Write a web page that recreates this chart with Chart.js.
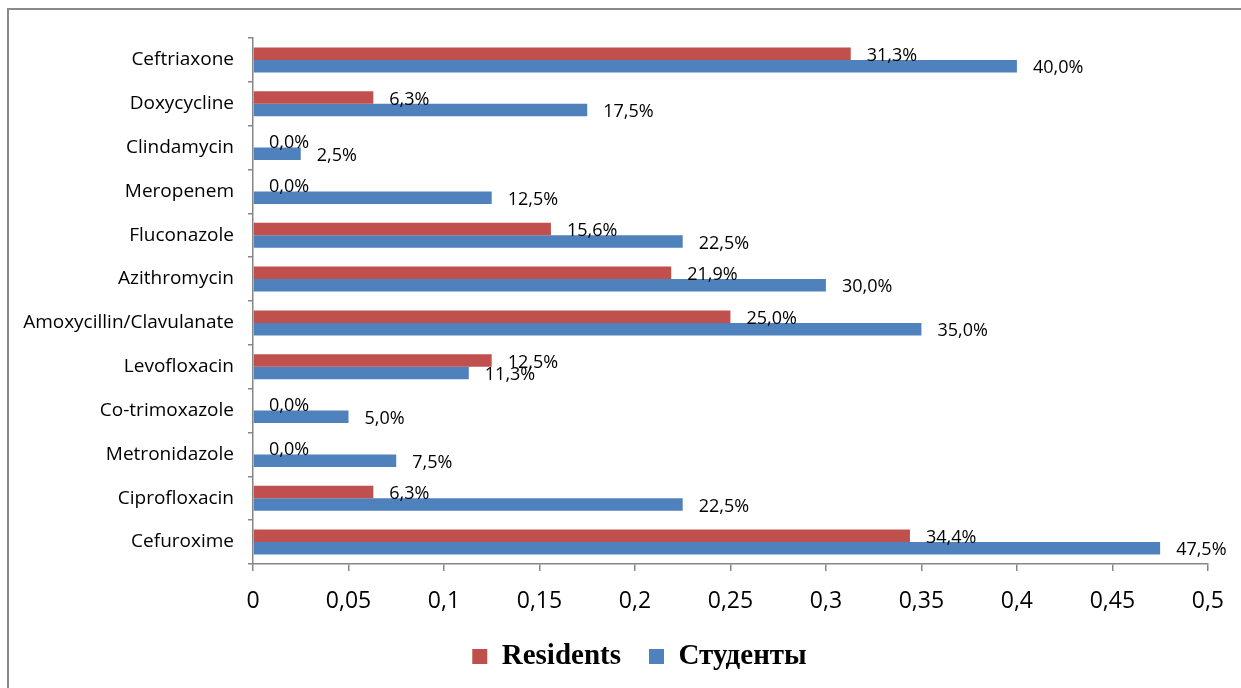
<!DOCTYPE html>
<html>
<head>
<meta charset="utf-8">
<script src="https://cdn.jsdelivr.net/npm/chart.js@4/dist/chart.umd.min.js"></script>
<style>
  html, body { margin: 0; padding: 0; background: #fff; }
  #frame {
    position: absolute; left: 7px; top: 8px; width: 1234px; height: 680px;
    border-top: 2px solid #8a8a8a; border-left: 2px solid #8a8a8a;
    box-sizing: border-box;
  }
  #wrap { position: absolute; left: 0; top: 0; width: 1241px; height: 688px; }
</style>
</head>
<body>
<div id="frame"></div>
<div id="wrap"><canvas id="c" width="1241" height="688"></canvas></div>
<script>
// Antibiotics, listed top to bottom
const categories = [
  'Ceftriaxone', 'Doxycycline', 'Clindamycin', 'Meropenem', 'Fluconazole',
  'Azithromycin', 'Amoxycillin/Clavulanate', 'Levofloxacin', 'Co-trimoxazole',
  'Metronidazole', 'Ciprofloxacin', 'Cefuroxime'
];
// Share of respondents per group (fraction of 1)
const residents = [0.313, 0.063, 0, 0, 0.156, 0.219, 0.25, 0.125, 0, 0, 0.063, 0.344];
const students  = [0.40, 0.175, 0.025, 0.125, 0.225, 0.30, 0.35, 0.113, 0.05, 0.075, 0.225, 0.475];
const seriesNames = ['Residents', 'Студенты'];
const xTicks = [0, 0.05, 0.1, 0.15, 0.2, 0.25, 0.3, 0.35, 0.4, 0.45, 0.5];

const RED = '#C0504D';
const BLUE = '#4F81BD';
const AXIS = '#868686';

const fmtComma = v => String(v).replace('.', ',');
const fmtPct = v => (v * 100).toFixed(1).replace('.', ',') + '%';

// Value labels placed just past the end of each bar
const barLabels = {
  id: 'barLabels',
  afterDatasetsDraw(chart) {
    const ctx = chart.ctx;
    ctx.save();
    ctx.font = '18px "Open Sans", sans-serif';
    ctx.fillStyle = '#000';
    ctx.textAlign = 'left';
    ctx.textBaseline = 'middle';
    chart.data.datasets.forEach((ds, i) => {
      const meta = chart.getDatasetMeta(i);
      meta.data.forEach((el, j) => {
        ctx.fillText(fmtPct(ds.data[j]), el.x + 16, el.y + 2);
      });
    });
    ctx.restore();
  }
};

// Centre the legend under the plot area rather than the whole canvas
const legendShift = {
  id: 'legendShift',
  afterLayout(chart) {
    const lg = chart.legend;
    if (lg) { lg.left += 30; lg.right += 30; }
  }
};

new Chart(document.getElementById('c'), {
  type: 'bar',
  data: {
    labels: categories,
    datasets: [
      { label: seriesNames[0], data: residents, backgroundColor: RED },
      { label: seriesNames[1], data: students, backgroundColor: BLUE }
    ]
  },
  options: {
    indexAxis: 'y',
    responsive: false,
    animation: false,
    devicePixelRatio: 1,
    categoryPercentage: 0.57,
    barPercentage: 1.0,
    layout: { padding: { left: 10, top: 38, right: 32, bottom: 7 } },
    scales: {
      x: {
        min: 0, max: 0.5,
        afterBuildTicks: s => { s.ticks = xTicks.map(v => ({ value: v })); },
        afterFit: s => { s.height = 50; },
        border: { color: AXIS, width: 1.5 },
        grid: { drawOnChartArea: false, color: AXIS, tickLength: 7, lineWidth: 1.5 },
        ticks: {
          color: '#000', padding: 17,
          font: { family: '"Open Sans", sans-serif', size: 23 },
          callback: v => fmtComma(v)
        }
      },
      y: {
        afterFit: s => { s.width = 243; },
        border: { color: AXIS, width: 1.5 },
        grid: { offset: true, drawOnChartArea: false, color: AXIS, tickLength: 5, lineWidth: 1.5 },
        ticks: {
          color: '#000', padding: 14,
          font: { family: '"Open Sans", sans-serif', size: 19 }
        }
      }
    },
    plugins: {
      legend: {
        position: 'bottom',
        labels: {
          color: '#000',
          boxWidth: 15, boxHeight: 15, padding: 28,
          font: { family: '"Liberation Serif", "Times New Roman", serif', size: 29, weight: 'bold' }
        }
      },
      tooltip: { enabled: false }
    }
  },
  plugins: [barLabels, legendShift]
});
</script>
</body>
</html>
